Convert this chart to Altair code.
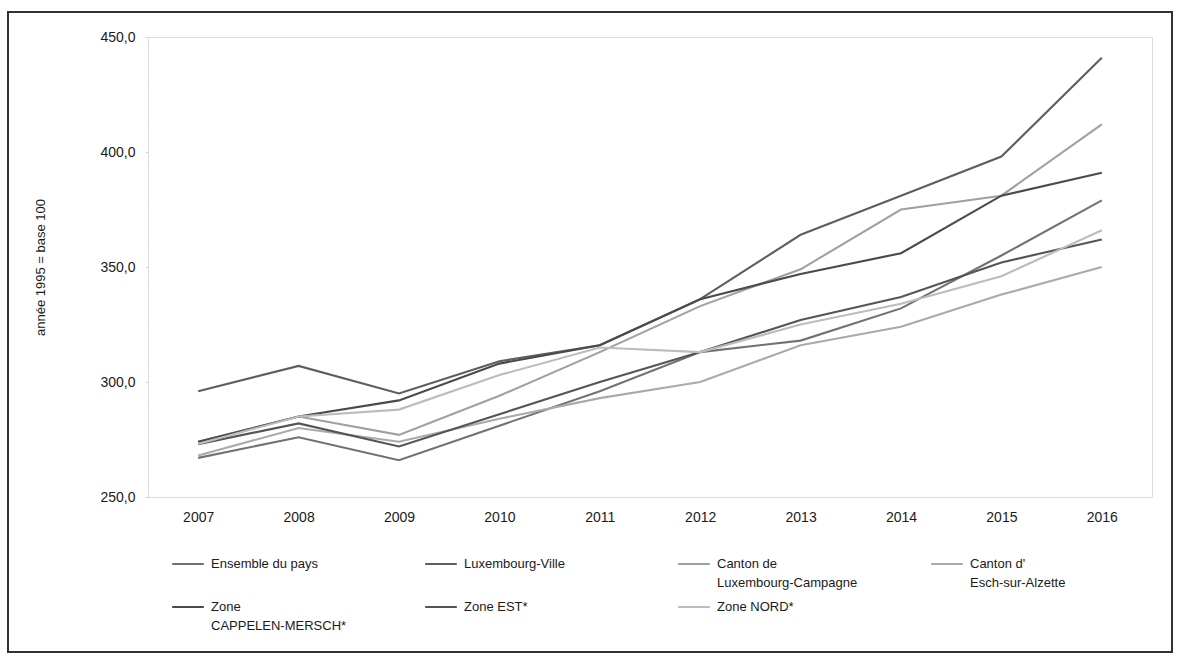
import altair as alt
import pandas as pd

years = ["2007", "2008", "2009", "2010", "2011", "2012", "2013", "2014", "2015", "2016"]

names = [
    "Ensemble du pays",
    "Luxembourg-Ville",
    "Canton de Luxembourg-Campagne",
    "Canton d' Esch-sur-Alzette",
    "Zone CAPPELEN-MERSCH*",
    "Zone EST*",
    "Zone NORD*",
]

ensemble = [267, 276, 266, 281, 296, 313, 318, 332, 355, 379]
lux_ville = [296, 307, 295, 309, 316, 336, 364, 381, 398, 441]
lux_campagne = [274, 285, 277, 294, 313, 333, 349, 375, 381, 412]
esch = [268, 280, 274, 284, 293, 300, 316, 324, 338, 350]
cappelen = [274, 285, 292, 308, 316, 336, 347, 356, 381, 391]
zone_est = [273, 282, 272, 286, 300, 313, 327, 337, 352, 362]
zone_nord = [273, 285, 288, 303, 315, 313, 325, 334, 346, 366]

series = [ensemble, lux_ville, lux_campagne, esch, cappelen, zone_est, zone_nord]
colors = ["#727272", "#5e5e5e", "#a0a0a0", "#aaaaaa", "#4a4a4a", "#555555", "#bcbcbc"]

rows = []
for name, vals in zip(names, series):
    for y, v in zip(years, vals):
        rows.append({"annee": y, "serie": name, "valeur": v})
df = pd.DataFrame(rows)

FONT = "Liberation Sans"

label_expr = (
    "datum.label == 'Canton de Luxembourg-Campagne' ? ['Canton de', 'Luxembourg-Campagne'] : "
    "datum.label == \"Canton d' Esch-sur-Alzette\" ? [\"Canton d'\", 'Esch-sur-Alzette'] : "
    "datum.label == 'Zone CAPPELEN-MERSCH*' ? ['Zone', 'CAPPELEN-MERSCH*'] : [datum.label, '']"
)

lines = alt.Chart(df).mark_line(strokeWidth=2.1).encode(
    x=alt.X(
        "annee:O",
        scale=alt.Scale(type="point", padding=0.5),
        axis=alt.Axis(
            title=None,
            labelAngle=0,
            labelFont=FONT,
            labelFontSize=14,
            labelColor="#1a1a1a",
            labelPadding=13,
            ticks=False,
            domainColor="#d4d4d4",
            domainDash=[2, 3],
            grid=False,
        ),
    ),
    y=alt.Y(
        "valeur:Q",
        scale=alt.Scale(domain=[250, 450], nice=False, zero=False),
        axis=alt.Axis(
            title="année 1995 = base 100",
            titleFont=FONT,
            titleFontSize=13,
            titleFontWeight="normal",
            titleColor="#1a1a1a",
            titleAngle=-90,
            titleX=-108,
            titleY=230,
            titleAlign="center",
            titleBaseline="middle",
            values=[250, 300, 350, 400, 450],
            labelExpr="replace(format(datum.value, '.1f'), '.', ',')",
            labelFont=FONT,
            labelFontSize=14,
            labelColor="#1a1a1a",
            labelPadding=10,
            tickSize=3,
            tickColor="#d4d4d4",
            domainColor="#d4d4d4",
            domainDash=[2, 3],
            grid=False,
        ),
    ),
    color=alt.Color(
        "serie:N",
        sort=names,
        scale=alt.Scale(domain=names, range=colors),
        legend=alt.Legend(
            title=None,
            orient="none",
            legendX=23,
            legendY=510,
            direction="horizontal",
            columns=4,
            gridAlign="all",
            columnPadding=69,
            rowPadding=0,
            symbolType="stroke",
            symbolSize=1000,
            symbolStrokeWidth=2,
            labelFont=FONT,
            labelFontSize=13,
            labelColor="#1a1a1a",
            labelOffset=6,
            labelLimit=300,
            labelExpr=label_expr,
            padding=0,
        ),
    ),
)

frame = alt.Chart(pd.DataFrame({"k": [0]})).mark_rect(
    fill=None, stroke="#333333", strokeWidth=2
).encode(
    x=alt.value(-140), x2=alt.value(1024), y=alt.value(-25), y2=alt.value(615)
)

chart = alt.layer(frame, lines).properties(
    width=1004,
    height=460,
    autosize=alt.AutoSizeParams(type="none"),
    padding={"left": 148, "top": 37, "right": 26, "bottom": 162},
).configure_view(stroke=None).configure(
    background="white", style={"guide-label": {"lineHeight": 19}}
)

chart.save("out.html", embed_options={"renderer": "svg", "actions": False})
